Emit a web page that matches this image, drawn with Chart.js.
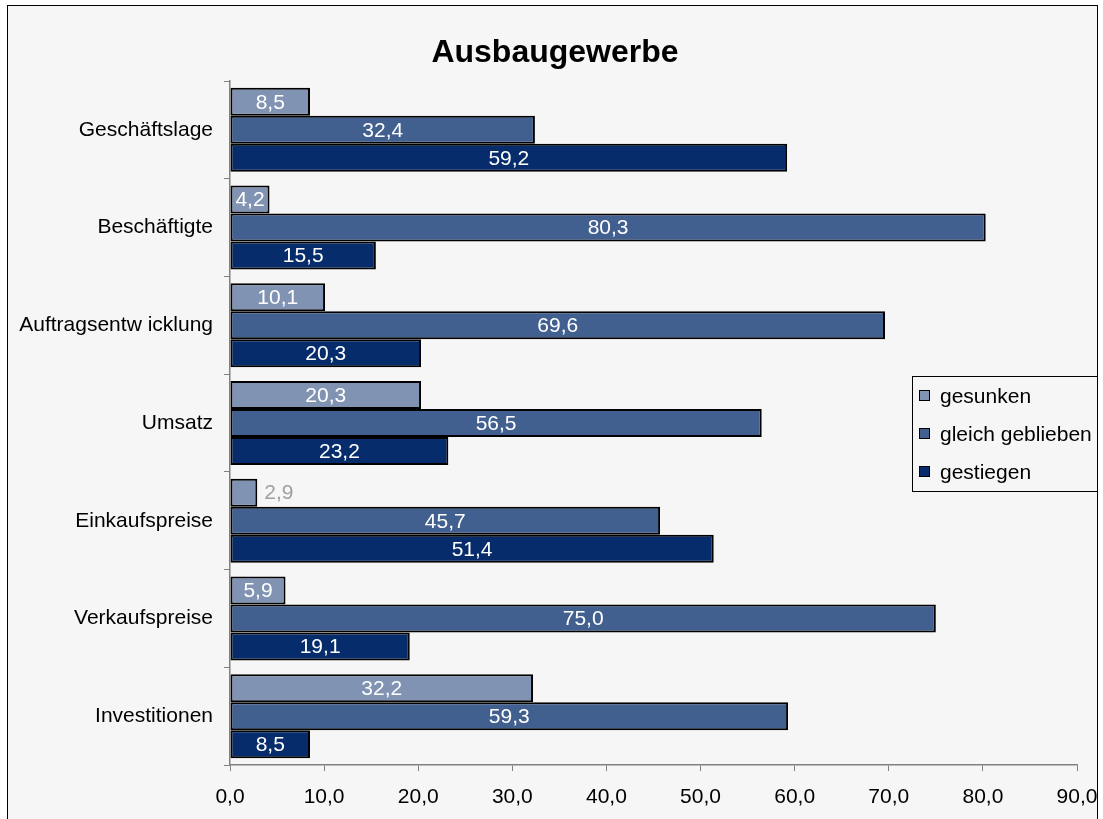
<!DOCTYPE html>
<html>
<head>
<meta charset="utf-8">
<script src="https://cdn.jsdelivr.net/npm/chart.js@4/dist/chart.umd.min.js"></script>
<style>
  html, body { margin: 0; padding: 0; background: #fff; }
  #wrap { position: relative; width: 1103px; height: 819px; }
</style>
</head>
<body>
<div id="wrap"><canvas id="chart" width="1103" height="819"></canvas></div>
<script>
// data
const categories = ["Geschäftslage", "Beschäftigte", "Auftragsentw icklung", "Umsatz", "Einkaufspreise", "Verkaufspreise", "Investitionen"];
const gesunken = [8.5, 4.2, 10.1, 20.3, 2.9, 5.9, 32.2];
const gleichGeblieben = [32.4, 80.3, 69.6, 56.5, 45.7, 75.0, 59.3];
const gestiegen = [59.2, 15.5, 20.3, 23.2, 51.4, 19.1, 8.5];
const xTicks = [0, 10, 20, 30, 40, 50, 60, 70, 80, 90];
const titleText = "Ausbaugewerbe";

const FONT = '"Liberation Sans", Arial, sans-serif';
const fmt = v => v.toFixed(1).replace(".", ",");

// background, outer frame and title
const framePlugin = {
  id: "frame",
  beforeDraw(chart) {
    const ctx = chart.ctx;
    ctx.save();
    ctx.fillStyle = "#ffffff";
    ctx.fillRect(0, 0, chart.width, chart.height);
    ctx.fillStyle = "#f6f6f6";
    ctx.fillRect(7, 5, 1091, 830);
    ctx.strokeStyle = "#000";
    ctx.lineWidth = 1;
    ctx.strokeRect(7.5, 5.5, 1090, 830);
    ctx.font = "bold 32px " + FONT;
    ctx.fillStyle = "#000";
    ctx.textAlign = "center";
    ctx.textBaseline = "middle";
    ctx.fillText(titleText, 555, 53);
    ctx.restore();
  }
};

// value labels inside the bars
const labelPlugin = {
  id: "barLabels",
  afterDatasetsDraw(chart) {
    const ctx = chart.ctx;
    ctx.save();
    ctx.font = "21px " + FONT;
    ctx.textBaseline = "middle";
    chart.data.datasets.forEach((ds, i) => {
      chart.getDatasetMeta(i).data.forEach((bar, j) => {
        const txt = fmt(ds.data[j]);
        const w = ctx.measureText(txt).width;
        const len = bar.x - bar.base;
        if (w + 4 > len) {
          ctx.fillStyle = "#a0a0a0";
          ctx.textAlign = "left";
          ctx.fillText(txt, bar.x + 7, bar.y + 1);
        } else {
          ctx.fillStyle = "#ffffff";
          ctx.textAlign = "center";
          ctx.fillText(txt, (bar.x + bar.base) / 2, bar.y + 1);
        }
      });
    });
    ctx.restore();
  }
};

// legend box overlapping the plot, like the original
const legendPlugin = {
  id: "boxLegend",
  afterDraw(chart) {
    const ctx = chart.ctx;
    const x = 912, y = 376, w = 185, h = 115;
    ctx.save();
    ctx.fillStyle = "#f6f6f6";
    ctx.fillRect(x, y, w, h);
    ctx.strokeStyle = "#000";
    ctx.lineWidth = 1;
    ctx.strokeRect(x + 0.5, y + 0.5, w, h);
    ctx.font = "21px " + FONT;
    ctx.textBaseline = "middle";
    ctx.textAlign = "left";
    chart.data.datasets.forEach((ds, i) => {
      const cy = y + 20 + i * 38;
      ctx.fillStyle = ds.backgroundColor;
      ctx.fillRect(x + 7, cy - 6, 11, 11);
      ctx.strokeStyle = "#000";
      ctx.strokeRect(x + 7.5, cy - 5.5, 10, 10);
      ctx.fillStyle = "#000";
      ctx.fillText(ds.label, x + 28, cy + 1);
    });
    ctx.restore();
  }
};

new Chart(document.getElementById("chart"), {
  type: "bar",
  data: {
    labels: categories,
    datasets: [
      { label: "gesunken", data: gesunken, backgroundColor: "#8093b3" },
      { label: "gleich geblieben", data: gleichGeblieben, backgroundColor: "#42608f" },
      { label: "gestiegen", data: gestiegen, backgroundColor: "#062c6b" }
    ]
  },
  options: {
    indexAxis: "y",
    responsive: false,
    animation: false,
    datasets: {
      bar: {
        borderColor: "#000",
        borderWidth: 2,
        borderSkipped: false,
        barPercentage: 1,
        categoryPercentage: 0.86
      }
    },
    layout: { padding: { left: 0, right: 26, top: 81, bottom: 0 } },
    plugins: {
      legend: { display: false },
      tooltip: { enabled: false },
      title: { display: false }
    },
    scales: {
      x: {
        min: 0,
        max: 90,
        afterFit: s => { s.height = 54; s.paddingRight = 0; s.paddingLeft = 0; },
        afterBuildTicks: s => { s.ticks = xTicks.map(v => ({ value: v })); },
        ticks: {
          color: "#000",
          padding: 14,
          font: { family: FONT, size: 21 },
          callback: v => fmt(v)
        },
        grid: { drawOnChartArea: false, drawTicks: true, tickLength: 6, color: "#808080" },
        border: { color: "#808080", width: 1.5 }
      },
      y: {
        afterFit: s => { s.width = 230; },
        ticks: {
          color: "#000",
          padding: 11,
          font: { family: FONT, size: 21 }
        },
        grid: { offset: true, drawOnChartArea: false, drawTicks: true, tickLength: 6, color: "#808080" },
        border: { color: "#808080", width: 1.5 }
      }
    }
  },
  plugins: [framePlugin, labelPlugin, legendPlugin]
});
</script>
</body>
</html>
